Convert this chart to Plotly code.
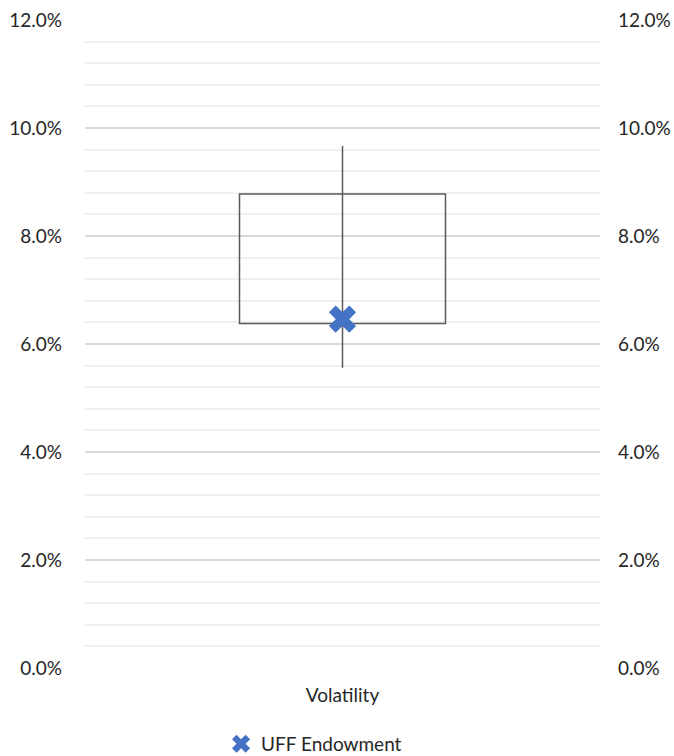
import plotly.graph_objects as go

# Volatility range (box), full high-low span (whisker) and the endowment's value
categories = ["Volatility"]
box_low = [0.0638]
box_high = [0.0878]
whisker_low = [0.0556]
whisker_high = [0.0967]
endowment = [0.0646]

y_ticks = [0.0, 0.02, 0.04, 0.06, 0.08, 0.10, 0.12]
y_tick_labels = ["0.0%", "2.0%", "4.0%", "6.0%", "8.0%", "10.0%", "12.0%"]

FONT = "Lato, 'Open Sans', sans-serif"
TEXT = "#262626"
EDGE = "#595959"
BLUE = "#4472C4"
FS = 19

fig = go.Figure()

# Box from the low to the high end of the range
fig.add_trace(go.Bar(
    x=categories,
    base=box_low,
    y=[h - l for h, l in zip(box_high, box_low)],
    width=0.4,
    marker=dict(color="rgba(255,255,255,0)", line=dict(color=EDGE, width=1.5)),
    showlegend=False,
    hoverinfo="skip",
))

# High-low line through the box
for c, lo, hi in zip(categories, whisker_low, whisker_high):
    fig.add_trace(go.Scatter(
        x=[c, c], y=[lo, hi], mode="lines",
        line=dict(color=EDGE, width=1.5),
        showlegend=False, hoverinfo="skip",
    ))

# Endowment marker
fig.add_trace(go.Scatter(
    x=categories, y=endowment, mode="markers",
    name="UFF Endowment",
    marker=dict(symbol="x", size=24, color=BLUE, line=dict(width=0)),
))

# Invisible trace to carry the mirrored right-hand axis
fig.add_trace(go.Scatter(
    x=categories, y=endowment, yaxis="y2", mode="markers",
    marker=dict(opacity=0), showlegend=False, hoverinfo="skip",
))

yaxis_common = dict(
    range=[0, 0.12],
    tickvals=y_ticks,
    ticktext=y_tick_labels,
    tickfont=dict(family=FONT, size=FS, color=TEXT),
    showline=False,
    zeroline=False,
    ticks="",
    automargin=False,
    fixedrange=True,
)

fig.update_layout(
    width=674,
    height=756,
    margin=dict(l=85, r=74, t=20, b=88, autoexpand=False),
    paper_bgcolor="white",
    plot_bgcolor="white",
    font=dict(family=FONT, color=TEXT),
    barmode="overlay",
    xaxis=dict(
        type="category",
        range=[-0.5, 0.5],
        tickfont=dict(family=FONT, size=FS, color=TEXT),
        showline=False,
        showgrid=False,
        ticks="",
        automargin=False,
        ticklabelstandoff=14,
    ),
    yaxis=dict(
        **yaxis_common,
        ticklabelstandoff=22,
        showgrid=True,
        gridcolor="#D9D9D9",
        gridwidth=1.5,
        minor=dict(dtick=0.004, showgrid=True, gridcolor="#F0F0F0", gridwidth=1.5),
    ),
    yaxis2=dict(
        **yaxis_common,
        ticklabelstandoff=17,
        overlaying="y",
        side="right",
        showgrid=False,
    ),
    legend=dict(
        orientation="h",
        xref="container", x=0.328, xanchor="left",
        yref="container", y=0.016, yanchor="middle",
        font=dict(family=FONT, size=FS, color=TEXT),
        itemwidth=30,
    ),
    showlegend=True,
)

fig.write_html("out.html")
